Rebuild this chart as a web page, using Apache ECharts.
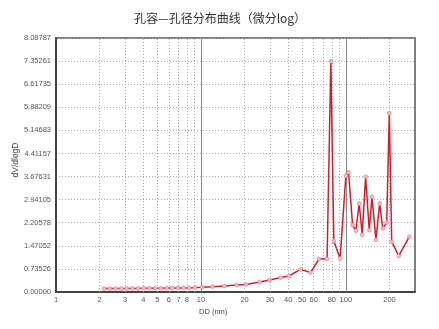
<!DOCTYPE html>
<html>
<head>
<meta charset="utf-8">
<script src="https://cdn.jsdelivr.net/npm/echarts@6/dist/echarts.min.js"></script>
<style>html,body{margin:0;padding:0;background:#fff}#c{width:439px;height:329px}</style>
</head>
<body>
<div id="c"></div>
<script>
// Pore diameter D (nm)
var poreDiameter = [2.15, 2.35, 2.58, 2.82, 3.08, 3.37, 3.69, 4.04, 4.42, 4.84, 5.3, 5.8, 6.35, 6.95, 7.6, 8.3, 9.1,
  10.2, 12.0, 14.5, 17.6, 20.5, 25.4, 29.8, 35.5, 40.5, 48.6, 57.0, 65.3, 74.2, 78.8, 82.6, 91.3, 100, 104.4,
  111.3, 117.3, 123.6, 129.7, 136.9, 145, 151.4, 161.3, 171.1, 179.5, 191.3, 199.4, 207.2, 231.6, 274.2];
// dV/dlogD
var dVdlogD = [0.11, 0.11, 0.11, 0.11, 0.11, 0.115, 0.115, 0.12, 0.12, 0.12, 0.12, 0.125, 0.125, 0.13, 0.13, 0.13, 0.14,
  0.15, 0.17, 0.19, 0.22, 0.24, 0.32, 0.38, 0.46, 0.51, 0.72, 0.62, 1.05, 1.05, 7.35, 1.62, 1.07, 3.70, 3.81,
  2.13, 1.95, 2.82, 1.82, 3.67, 1.97, 3.03, 1.66, 2.82, 2.03, 2.21, 5.69, 1.60, 1.15, 1.76];
// x gridline positions and their labels ('' = no label)
var xTickValues = [1, 2, 3, 4, 5, 6, 7, 8, 9, 10, 20, 30, 40, 50, 60, 70, 80, 90, 100, 200];
var xTickLabels = ['1', '2', '3', '4', '5', '6', '7', '8', '', '10', '20', '30', '40', '50', '60', '', '80', '', '100', '200'];
var xMajor = [10, 100];
// y tick labels
var yTickLabels = ['0.00000', '0.73526', '1.47052', '2.20578', '2.94105', '3.67631', '4.41157', '5.14683', '5.88209', '6.61735', '7.35261', '8.08787'];
var yStep = 0.735261;

var chart = echarts.init(document.getElementById('c'));
var mlData = xTickValues.map(function (v, i) {
  var major = xMajor.indexOf(v) >= 0;
  var edge = (v === 1);
  return {
    xAxis: v,
    lineStyle: edge ? {color: 'rgba(0,0,0,0)', width: 0} :
      (major ? {color: '#888', width: 1, type: 'solid'} : {color: '#aaa', width: 1, type: [1, 2]}),
    label: {show: xTickLabels[i] !== '', formatter: xTickLabels[i]}
  };
});

chart.setOption({
  animation: false,
  title: {
    text: '孔容—孔径分布曲线（微分log）',
    left: 215, textAlign: 'center',
    top: 7,
    textStyle: {fontFamily: 'Noto Sans CJK SC', fontSize: 12, fontWeight: 'normal', color: '#333'}
  },
  grid: {left: 56, right: 24, top: 38, bottom: 37, show: true, borderColor: '#555', borderWidth: 1.5,
    containLabel: false, outerBoundsMode: 'none'},
  xAxis: {
    type: 'log', logBase: 10, min: 1, max: 300,
    axisLine: {show: true, lineStyle: {color: '#444', width: 2}},
    axisTick: {show: false},
    axisLabel: {show: false},
    splitLine: {show: false},
    minorSplitLine: {show: false}
  },
  yAxis: {
    type: 'value', min: 0, max: yStep * 11, interval: yStep,
    axisLine: {show: true, lineStyle: {color: '#444', width: 2}},
    axisTick: {show: false},
    axisLabel: {
      fontSize: 7.5, color: '#555', margin: 5, fontFamily: 'Liberation Sans',
      formatter: function (v, i) { return yTickLabels[Math.round(v / yStep)]; }
    },
    splitLine: {show: true, lineStyle: {color: '#aaa', width: 1, type: [1, 2]}}
  },
  graphic: [{
    type: 'text', left: 199, top: 308,
    style: {text: 'DD (nm)', fontSize: 7.5, fill: '#444', fontFamily: 'Liberation Sans'}
  }, {
    type: 'text', x: 16, y: 160, rotation: Math.PI / 2,
    style: {text: 'dV/dlogD', fontSize: 8.5, fill: '#444', fontFamily: 'Liberation Sans', align: 'center', verticalAlign: 'middle'}
  }],
  series: [{
    type: 'line',
    data: poreDiameter.map(function (d, i) { return [d, dVdlogD[i]]; }),
    symbol: 'circle', symbolSize: 4,
    lineStyle: {color: '#d01e2c', width: 1.5},
    itemStyle: {color: '#f3b8c0', borderColor: '#e07080', borderWidth: 0.5},
    z: 5,
    markLine: {
      silent: true, symbol: 'none', animation: false,
      label: {position: 'start', distance: 4, fontSize: 7.5, color: '#555', fontFamily: 'Liberation Sans'},
      data: mlData,
      z: 1
    }
  }]
});
</script>
</body>
</html>
